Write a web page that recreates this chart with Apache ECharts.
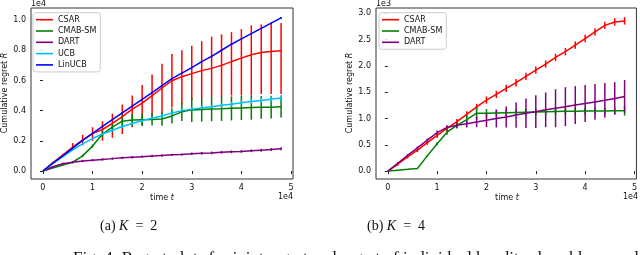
<!DOCTYPE html>
<html>
<head>
<meta charset="utf-8">
<script src="https://cdn.jsdelivr.net/npm/echarts@6/dist/echarts.min.js"></script>
<style>
html,body{margin:0;padding:0;background:#fff;}
#c{width:640px;height:255px;}
</style>
</head>
<body>
<div id="c"></div>
<script>
// time steps (units of 1e4)
const tSteps = [0,0.2,0.4,0.6,0.8,1.0,1.2,1.4,1.6,1.8,2.0,2.2,2.4,2.6,2.8,3.0,3.2,3.4,3.6,3.8,4.0,4.2,4.4,4.6,4.8];

// (a) K = 2, regret in units of 1e4
const csar2   = [0,0.055,0.105,0.158,0.205,0.248,0.275,0.315,0.36,0.41,0.45,0.50,0.55,0.598,0.625,0.645,0.665,0.68,0.70,0.725,0.748,0.77,0.785,0.792,0.797];
const csar2Lo = [0,0.05,0.095,0.14,0.17,0.20,0.20,0.22,0.245,0.29,0.30,0.34,0.38,0.42,0.44,0.47,0.48,0.49,0.49,0.50,0.50,0.50,0.51,0.51,0.51];
const csar2Hi = [0,0.06,0.115,0.185,0.24,0.29,0.33,0.38,0.44,0.50,0.57,0.64,0.71,0.775,0.80,0.83,0.86,0.89,0.905,0.92,0.94,0.965,0.97,0.975,0.98];
const cmab2    = [0,0.02,0.04,0.058,0.10,0.165,0.245,0.29,0.33,0.338,0.34,0.342,0.345,0.365,0.392,0.405,0.407,0.41,0.412,0.415,0.418,0.42,0.422,0.423,0.425];
const cmab2Err = [0,0,0.005,0.005,0.008,0.01,0.02,0.03,0.045,0.04,0.04,0.04,0.045,0.05,0.06,0.08,0.08,0.08,0.08,0.08,0.08,0.08,0.075,0.075,0.07];
const dart2    = [0,0.028,0.048,0.058,0.066,0.072,0.077,0.082,0.087,0.091,0.095,0.099,0.103,0.107,0.11,0.114,0.117,0.12,0.124,0.127,0.13,0.134,0.138,0.142,0.148];
const dart2Err = [0,0.005,0.008,0.008,0.008,0.008,0.008,0.008,0.008,0.008,0.008,0.008,0.008,0.008,0.008,0.008,0.009,0.009,0.009,0.009,0.009,0.009,0.01,0.01,0.01];
const ucb2     = [0,0.05,0.095,0.14,0.18,0.215,0.245,0.27,0.295,0.315,0.335,0.35,0.365,0.385,0.40,0.41,0.418,0.425,0.435,0.443,0.452,0.46,0.467,0.475,0.483];
const ucb2Err  = [0,0.004,0.004,0.005,0.005,0.006,0.006,0.007,0.008,0.008,0.009,0.01,0.01,0.01,0.012,0.012,0.013,0.014,0.015,0.015,0.016,0.017,0.018,0.019,0.02];
const linucb2    = [0,0.05,0.10,0.152,0.203,0.25,0.295,0.34,0.385,0.43,0.475,0.52,0.565,0.612,0.648,0.685,0.725,0.76,0.80,0.84,0.875,0.91,0.945,0.98,1.015];
const linucb2Err = [0,0.004,0.004,0.004,0.004,0.004,0.004,0.004,0.004,0.004,0.004,0.004,0.004,0.004,0.004,0.004,0.004,0.004,0.004,0.004,0.004,0.004,0.004,0.004,0.006];

// (b) K = 4, regret in units of 1e3
const csar4    = [0,0.13,0.27,0.40,0.54,0.68,0.81,0.94,1.08,1.22,1.35,1.458,1.572,1.68,1.80,1.92,2.035,2.16,2.27,2.395,2.52,2.645,2.77,2.835,2.855];
const csar4Err = [0,0.03,0.03,0.04,0.04,0.05,0.05,0.05,0.06,0.06,0.07,0.07,0.07,0.07,0.07,0.07,0.07,0.07,0.07,0.07,0.07,0.07,0.07,0.07,0.07];
const cmab4    = [0,0.017,0.033,0.05,0.29,0.52,0.74,0.87,0.98,1.10,1.10,1.105,1.11,1.115,1.12,1.125,1.13,1.135,1.138,1.14,1.142,1.143,1.144,1.145,1.145];
const cmab4Err = [0,0,0,0,0.02,0.03,0.05,0.06,0.08,0.12,0.08,0.06,0.06,0.06,0.06,0.06,0.06,0.06,0.06,0.06,0.06,0.06,0.06,0.06,0.09];
const dart4    = [0,0.15,0.30,0.44,0.59,0.73,0.83,0.87,0.90,0.935,0.965,1.0,1.03,1.065,1.10,1.13,1.165,1.195,1.225,1.255,1.285,1.315,1.345,1.38,1.42];
const dart4Err = [0,0.02,0.02,0.03,0.03,0.04,0.04,0.05,0.07,0.10,0.13,0.17,0.20,0.24,0.28,0.31,0.33,0.36,0.37,0.36,0.35,0.34,0.33,0.31,0.31];

// tick labels
const xTicks  = [0,1,2,3,4,5];
const yTicks2 = [0,0.2,0.4,0.6,0.8,1.0];
const yTicks4 = [0,0.5,1.0,1.5,2.0,2.5,3.0];

const names2 = ['CSAR','CMAB-SM','DART','UCB','LinUCB'];
const names4 = ['CSAR','CMAB-SM','DART'];
const colors = {'CSAR':'#ff0000','CMAB-SM':'#008000','DART':'#800080','UCB':'#00bfff','LinUCB':'#0000ff'};

const FONT = 'DejaVu Sans';

function pairs(m){ return tSteps.map((t,i)=>[t,m[i]]); }
function barsSym(m,e){ const out=[]; tSteps.forEach((t,i)=>{ if(e[i]>0) out.push([t,m[i]-e[i],m[i]+e[i]]); }); return out; }
function barsLH(lo,hi){ const out=[]; tSteps.forEach((t,i)=>{ if(hi[i]>lo[i]) out.push([t,lo[i],hi[i]]); }); return out; }

function lineSeries(name, data, gi){
  return {type:'line', name:name, data:pairs(data), xAxisIndex:gi, yAxisIndex:gi,
    symbol:'none', showSymbol:false, silent:true, animation:false,
    lineStyle:{color:colors[name], width:1.5}, itemStyle:{color:colors[name]}};
}
function errSeries(name, bars, gi){
  const col = colors[name];
  return {type:'custom', name:name+'_err', xAxisIndex:gi, yAxisIndex:gi, data:bars, silent:true, animation:false,
    encode:{x:0, y:[1,2]},
    renderItem:function(params, api){
      const x=api.value(0), lo=api.value(1), hi=api.value(2);
      const p1=api.coord([x,lo]), p2=api.coord([x,hi]);
      return {type:'line', shape:{x1:p1[0],y1:p1[1],x2:p2[0],y2:p2[1]}, style:{stroke:col, lineWidth:1.5}};
    }};
}

const series = [
  lineSeries('CSAR', csar2, 0), errSeries('CSAR', barsLH(csar2Lo, csar2Hi), 0),
  lineSeries('CMAB-SM', cmab2, 0), errSeries('CMAB-SM', barsSym(cmab2, cmab2Err), 0),
  lineSeries('DART', dart2, 0), errSeries('DART', barsSym(dart2, dart2Err), 0),
  lineSeries('UCB', ucb2, 0), errSeries('UCB', barsSym(ucb2, ucb2Err), 0),
  lineSeries('LinUCB', linucb2, 0), errSeries('LinUCB', barsSym(linucb2, linucb2Err), 0),
  lineSeries('CSAR', csar4, 1), errSeries('CSAR', barsSym(csar4, csar4Err), 1),
  lineSeries('CMAB-SM', cmab4, 1), errSeries('CMAB-SM', barsSym(cmab4, cmab4Err), 1),
  lineSeries('DART', dart4, 1), errSeries('DART', barsSym(dart4, dart4Err), 1)
];

const tickStyle = {show:true, inside:false, length:3, interval:0, lineStyle:{color:'#222', width:1}};
const labelStyle = {color:'#111', fontFamily:FONT, fontSize:8, interval:0, hideOverlap:false, showMinLabel:true, showMaxLabel:true};

function xAxis(gi){
  return {type:'value', gridIndex:gi, min:-0.24, max:5.04,
    axisLine:{show:false}, splitLine:{show:false},
    axisTick:Object.assign({customValues:xTicks}, tickStyle),
    axisLabel:Object.assign({customValues:xTicks, margin:5, formatter:v=>String(Math.round(v))}, labelStyle)};
}
function yAxis(gi, min, max, ticks){
  return {type:'value', gridIndex:gi, min:min, max:max,
    axisLine:{show:false}, splitLine:{show:false},
    axisTick:Object.assign({customValues:ticks}, tickStyle),
    axisLabel:Object.assign({customValues:ticks, margin:5, formatter:v=>v.toFixed(1)}, labelStyle)};
}

function legend(names, left, top){
  return {data:names, orient:'vertical', left:left, top:top, icon:'rect', itemWidth:17, itemHeight:1.6, itemGap:1.3,
    padding:[2,4,2,3], borderColor:'#cccccc', borderWidth:1, borderRadius:3, backgroundColor:'rgba(255,255,255,0.85)',
    selectedMode:false, textStyle:{fontFamily:FONT, fontSize:8, color:'#111', lineHeight:10}};
}

const richI = {i:{fontStyle:'italic', fontFamily:FONT, fontSize:8, fill:'#111'}};

const option = {
  animation:false,
  backgroundColor:'#ffffff',
  grid:[
    {left:31, top:8, width:262, height:171, show:true, borderColor:'#333', borderWidth:1, backgroundColor:'transparent'},
    {left:376, top:8, width:262, height:171, show:true, borderColor:'#333', borderWidth:1, backgroundColor:'transparent'}
  ],
  xAxis:[xAxis(0), xAxis(1)],
  yAxis:[yAxis(0, -0.053, 1.08, yTicks2), yAxis(1, -0.15, 3.1, yTicks4)],
  legend:[legend(names2, 33, 12.7), legend(names4, 379, 12.7)],
  series:series,
  graphic:[
    {type:'text', left:31, top:0, style:{text:'1e4', font:'8px "DejaVu Sans"', fill:'#111'}},
    {type:'text', left:376, top:0, style:{text:'1e3', font:'8px "DejaVu Sans"', fill:'#111'}},
    {type:'text', right:347, top:193, style:{text:'1e4', font:'8px "DejaVu Sans"', fill:'#111'}},
    {type:'text', right:2, top:193, style:{text:'1e4', font:'8px "DejaVu Sans"', fill:'#111'}},
    {type:'text', x:162, y:198, style:{text:'time {i|t}', font:'8px "DejaVu Sans"', fill:'#111', align:'center', verticalAlign:'middle', rich:richI}},
    {type:'text', x:507, y:198, style:{text:'time {i|t}', font:'8px "DejaVu Sans"', fill:'#111', align:'center', verticalAlign:'middle', rich:richI}},
    {type:'text', x:5, y:93, rotation:Math.PI/2, style:{text:'Cumulative regret {i|R}', font:'8px "DejaVu Sans"', fill:'#111', align:'center', verticalAlign:'middle', rich:richI}},
    {type:'text', x:350, y:93, rotation:Math.PI/2, style:{text:'Cumulative regret {i|R}', font:'8px "DejaVu Sans"', fill:'#111', align:'center', verticalAlign:'middle', rich:richI}},
    {type:'text', left:100, top:219, style:{text:'(a) {k|K}\u2002=\u20022', font:'14px "Liberation Serif"', fill:'#111',
      rich:{k:{fontStyle:'italic', fontFamily:'Liberation Serif', fontSize:14}}}},
    {type:'text', left:367, top:219, style:{text:'(b) {k|K}\u2002=\u20024', font:'14px "Liberation Serif"', fill:'#111',
      rich:{k:{fontStyle:'italic', fontFamily:'Liberation Serif', fontSize:14}}}},
    {type:'text', left:73, top:250, style:{text:'Fig. 4: Regret plots for joint regret and regret of individual bandit subproblems and', font:'17px "Liberation Serif"', fill:'#111'}}
  ]
};

const chart = echarts.init(document.getElementById('c'), null, {renderer:'canvas'});
chart.setOption(option);
</script>
</body>
</html>
